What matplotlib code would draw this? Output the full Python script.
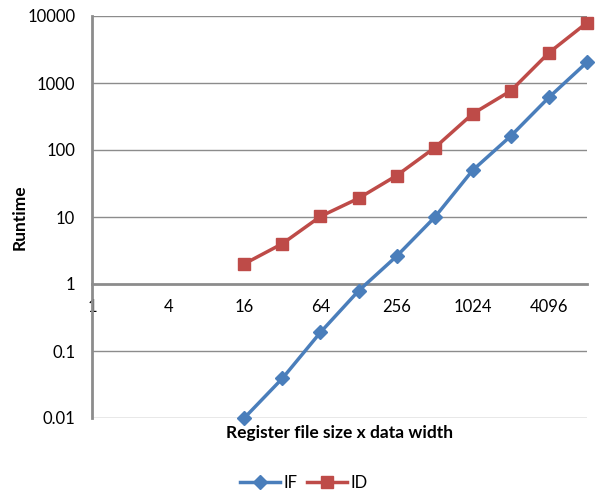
import matplotlib
matplotlib.use("Agg")
import matplotlib.pyplot as plt
from matplotlib.ticker import FixedLocator, FixedFormatter, NullLocator

plt.rcParams['font.family'] = ['Lato', 'DejaVu Sans']

x_values = [16, 32, 64, 128, 256, 512, 1024, 2048, 4096, 8192]
if_values = [0.01, 0.039, 0.19, 0.79, 2.6, 9.9, 50, 162, 610, 2040]
id_values = [2.0, 4.0, 10.2, 19, 41.5, 108, 348, 765, 2830, 7950]
x_ticks = [1, 4, 16, 64, 256, 1024, 4096]
x_tick_labels = ["1", "4", "16", "64", "256", "1024", "4096"]
y_ticks = [0.01, 0.1, 1, 10, 100, 1000, 10000]
y_tick_labels = ["0.01", "0.1", "1", "10", "100", "1000", "10000"]

blue = "#4A7EBB"
red = "#BE4B48"
grid_c = "#8C8C8C"

fig = plt.figure(figsize=(5.96, 4.91), dpi=100)
ax = fig.add_axes([92/596, 1 - 418/491, (587-92)/596, (418-16)/491])

ax.set_xscale('log', base=2)
ax.set_yscale('log')
ax.set_xlim(1, 8192)
ax.set_ylim(0.01, 10000)

ax.plot(x_values, if_values, color=blue, lw=2.5, marker='D', ms=7.5,
        markeredgecolor=blue, label="IF", zorder=3, clip_on=False)
ax.plot(x_values, id_values, color=red, lw=2.5, marker='s', ms=8.5,
        markeredgecolor=red, label="ID", zorder=3, clip_on=False)

ax.xaxis.set_major_locator(FixedLocator(x_ticks))
ax.xaxis.set_major_formatter(FixedFormatter(x_tick_labels))
ax.xaxis.set_minor_locator(NullLocator())
ax.yaxis.set_major_locator(FixedLocator(y_ticks))
ax.yaxis.set_major_formatter(FixedFormatter(y_tick_labels))
ax.yaxis.set_minor_locator(NullLocator())

for y in y_ticks:
    if y != 1:
        ax.axhline(y, color=grid_c, lw=1.0, zorder=1)

for s in ['top', 'right']:
    ax.spines[s].set_visible(False)
ax.spines['bottom'].set_position(('data', 1))
ax.spines['bottom'].set_color(grid_c)
ax.spines['bottom'].set_linewidth(2)
ax.spines['left'].set_color(grid_c)
ax.spines['left'].set_linewidth(2)
ax.spines['bottom'].set_zorder(2)

ax.tick_params(axis='both', length=0, labelsize=12, colors='black')
ax.tick_params(axis='x', pad=11)
ax.tick_params(axis='y', pad=12)

fig.text(340/596, 1 - 433/491, "Register file size x data width", ha='center',
         va='center', fontsize=12.5, fontweight='bold')
fig.text(20/596, 1 - 217/491, "Runtime", ha='center', va='center',
         rotation=90, fontsize=12.5, fontweight='bold')

fig.legend(loc='center', bbox_to_anchor=(304/596, 1 - 483/491), ncol=2,
           frameon=False, fontsize=12, handlelength=2.4, columnspacing=0.6,
           handletextpad=0.2)

fig.savefig("out.png", dpi=100)
